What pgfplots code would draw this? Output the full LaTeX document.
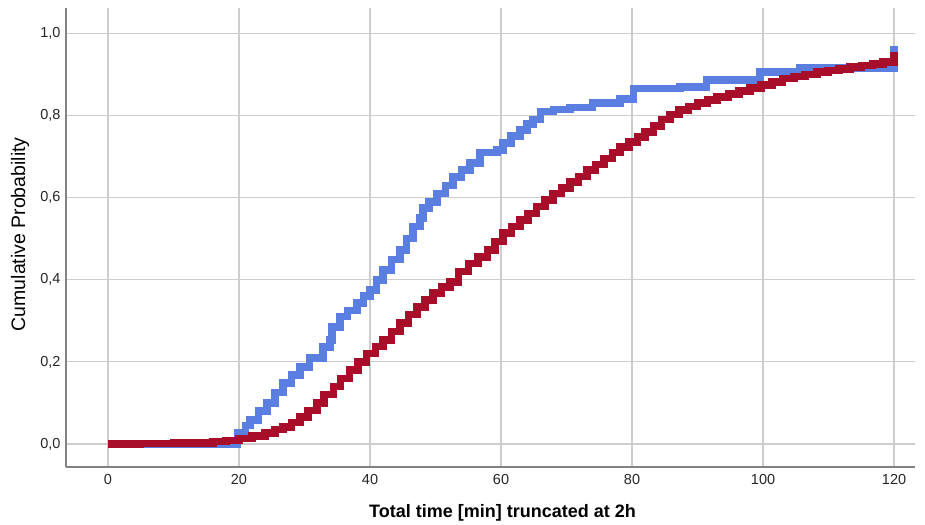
\documentclass[border=0pt]{standalone}
\usepackage{pgfplots}
\pgfplotsset{compat=1.18}
\usepackage{fontspec}
\setmainfont{Liberation Sans}

\definecolor{cdfblue}{RGB}{91,127,224}
\definecolor{cdfred}{RGB}{168,14,42}
\definecolor{gridgray}{RGB}{205,205,205}
\definecolor{axisgray}{RGB}{130,130,130}

\begin{document}
\begin{tikzpicture}
\path[use as bounding box] (0,0) rectangle (925pt,524pt);
\begin{axis}[
  at={(66pt,57pt)}, anchor=south west,
  scale only axis, width=849pt, height=459pt,
  xmin=-6.41, xmax=123.2, ymin=-0.056, ymax=1.062,
  axis lines*=left,
  axis line style={draw=axisgray, line width=1.5pt},
  grid=major,
  major grid style={draw=gridgray, line width=1.2pt},
  major tick length=0pt,
  xtick={0,20,...,120},
  ytick={0,0.2,0.4,0.6,0.8,1.0},
  /pgf/number format/assume math mode=true,
  yticklabel style={/pgf/number format/fixed, /pgf/number format/fixed zerofill,
    /pgf/number format/precision=1, /pgf/number format/use comma, xshift=-2pt},
  xticklabel style={/pgf/number format/fixed, /pgf/number format/precision=0, yshift=-4pt},
  tick label style={font=\fontsize{14.5}{16}\selectfont, text=black!85},
  xlabel={Total time [min] truncated at 2h},
  ylabel={Cumulative Probability},
  xlabel style={at={(axis description cs:0.5,0)}, anchor=center, xshift=12pt, yshift=-46pt,
    font=\bfseries\fontsize{18}{20}\selectfont},
  ylabel style={at={(axis description cs:-0.0542,0.507)}, anchor=center,
    font=\fontsize{19.5}{22}\selectfont},
  clip=false,
]
% first group: empirical CDF
\addplot[const plot, cdfblue, line width=7.5pt, line join=miter] coordinates {
(0,0.000) (19.8,0.027) (21,0.045) (21.7,0.058) (23,0.080) (24.3,0.100)
(25.5,0.125) (26.7,0.148) (28,0.168) (29.3,0.188) (30.8,0.210) (32.8,0.236)
(33.9,0.253) (34.2,0.285) (35.4,0.310) (36.6,0.325) (38.0,0.343) (39,0.360)
(40.0,0.375) (41,0.400) (42.0,0.424) (43.3,0.450) (44.6,0.473) (45.6,0.500)
(46.6,0.530) (47.6,0.550) (48.1,0.575) (49,0.590) (50.2,0.610) (51.5,0.630)
(52.7,0.650) (54,0.668) (55.3,0.684) (56.8,0.710) (59.4,0.716) (60.3,0.733)
(61.5,0.750) (62.9,0.765) (64,0.780) (64.9,0.790) (66,0.810) (68,0.815)
(70.5,0.820) (74,0.830) (78.2,0.840) (80.2,0.866) (87.3,0.870) (91.4,0.887)
(99.5,0.906) (105.6,0.916) (120,0.970)
};
% second group: empirical CDF
\addplot[const plot, cdfred, line width=7.5pt, line join=miter] coordinates {
(0,0.000) (5,0.001) (10,0.002) (14,0.003) (16,0.006) (18,0.009) (20,0.014)
(22,0.020) (24,0.027) (25.5,0.035) (26.7,0.041) (28,0.052) (29.3,0.066)
(30.5,0.082) (31.9,0.100) (33,0.120) (34.4,0.140) (35.5,0.160) (36.9,0.180)
(38.2,0.200) (39.5,0.220) (40.8,0.237) (42,0.253) (43.3,0.274) (44.6,0.295)
(45.9,0.315) (47.2,0.334) (48.4,0.351) (49.6,0.368) (50.9,0.382) (52.2,0.395)
(53.5,0.420) (55,0.440) (56.5,0.456) (57.9,0.472) (59.1,0.493) (60.3,0.514)
(61.6,0.530) (62.9,0.546) (64.1,0.562) (65.4,0.578) (66.7,0.594) (67.9,0.610)
(69.2,0.624) (70.5,0.638) (71.8,0.652) (73.1,0.667) (74.4,0.681) (75.7,0.695)
(77,0.710) (78.2,0.724) (79.5,0.736) (80.8,0.748) (82,0.760) (83.3,0.775)
(84.5,0.790) (85.8,0.802) (87.2,0.813) (88.6,0.822) (90,0.830) (91.5,0.838)
(93,0.845) (94.7,0.852) (96.3,0.860) (98,0.867) (99.7,0.874) (101.4,0.882)
(103,0.890) (104.7,0.895) (106.4,0.900) (108.2,0.906) (109.9,0.910)
(111.6,0.914) (113.3,0.918) (115,0.922) (116.7,0.926) (118.3,0.930) (120,0.955)
};
\end{axis}
\end{tikzpicture}
\end{document}
